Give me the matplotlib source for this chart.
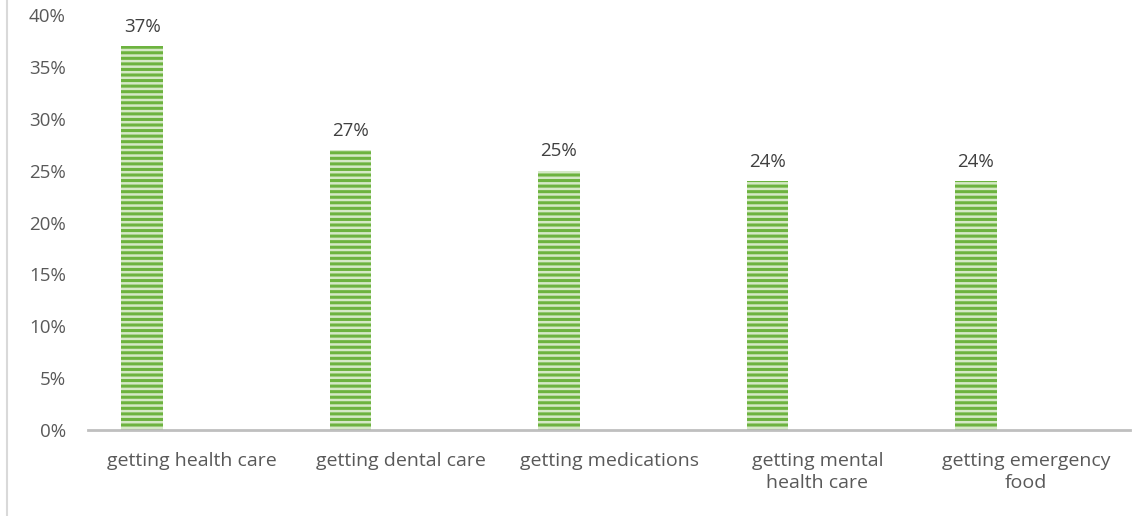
import numpy as np
import matplotlib.pyplot as plt
from matplotlib.lines import Line2D

categories = ['getting health care', 'getting dental care', 'getting medications',
              'getting mental\nhealth care', 'getting emergency\nfood']
values = [37, 27, 25, 24, 24]
yticks = [0, 5, 10, 15, 20, 25, 30, 35, 40]

plt.rcParams['font.family'] = ['Open Sans', 'DejaVu Sans']
plt.rcParams['hatch.linewidth'] = 2.2

fig = plt.figure(figsize=(11.45, 5.16), dpi=100)
ax = fig.add_axes([88 / 1145, 1 - 430 / 516, (1130 - 88) / 1145, (430 - 15) / 516])

x = np.arange(len(categories))
bars = ax.bar(x - 0.24, values, width=0.2, color='#d5e9c6', edgecolor='#6db33f',
              hatch='---', linewidth=0)
for b, v in zip(bars, values):
    ax.text(b.get_x() + b.get_width() / 2, v + 1.0, '%d%%' % v, ha='center', va='bottom',
            fontsize=13.5, color='#404040')

ax.set_xlim(-0.5, len(categories) - 0.5)
ax.set_ylim(0, 40)
ax.set_yticks(yticks)
ax.set_yticklabels(['%d%%' % t for t in yticks])
ax.set_xticks(x)
ax.set_xticklabels(categories, linespacing=1.3)
ax.tick_params(axis='y', length=0, pad=16, labelsize=13.5, labelcolor='#595959')
ax.tick_params(axis='x', length=0, pad=16, labelsize=14, labelcolor='#595959')
for s in ['top', 'right', 'left']:
    ax.spines[s].set_visible(False)
ax.spines['bottom'].set_color('#bfbfbf')
ax.spines['bottom'].set_linewidth(2)

fig.add_artist(Line2D([7 / 1145, 7 / 1145], [0, 1], color='#d9d9d9', lw=1.5,
                      transform=fig.transFigure))

plt.savefig('out.png', dpi=100)
